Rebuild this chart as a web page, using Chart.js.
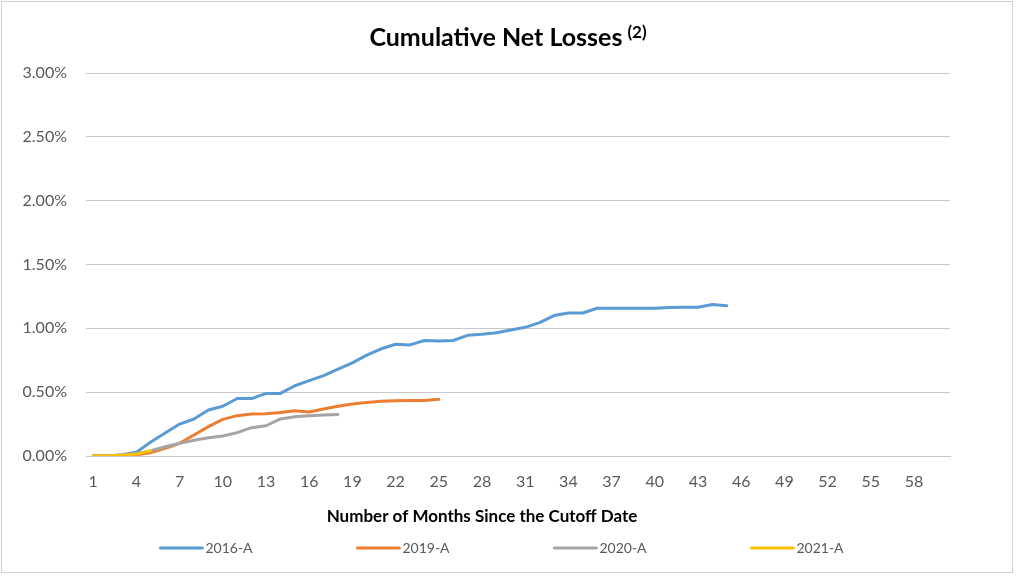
<!DOCTYPE html>
<html>
<head>
<meta charset="utf-8">
<script src="https://cdn.jsdelivr.net/npm/chart.js@4"></script>
<style>
  html, body { margin: 0; padding: 0; background: #ffffff; }
  #wrap { position: absolute; left: 1px; top: 1px; width: 1010px; height: 570px; border: 1px solid #d0d0d0; background: #fff; }
  canvas { display: block; }
</style>
</head>
<body>
<div id="wrap"><canvas id="c" width="1010" height="570"></canvas></div>
<script>
// ---- data ----
const months = Array.from({length: 60}, (_, i) => String(i + 1));
const seriesNames = ['2016-A', '2019-A', '2020-A', '2021-A'];
const seriesColors = ['#5B9BD5', '#ED7D31', '#A5A5A5', '#FFC000'];
const s2016A = [0, 0, 0.01, 0.03, 0.11, 0.18, 0.25, 0.29, 0.36, 0.39,
                0.45, 0.45, 0.49, 0.49, 0.55, 0.59, 0.63, 0.68, 0.73, 0.79,
                0.84, 0.875, 0.87, 0.905, 0.90, 0.905, 0.945, 0.953, 0.966, 0.987,
                1.008, 1.045, 1.10, 1.12, 1.12, 1.157, 1.157, 1.157, 1.157, 1.157,
                1.163, 1.165, 1.165, 1.187, 1.177];
const s2019A = [0, 0, 0.005, 0.01, 0.026, 0.06, 0.10, 0.165, 0.23, 0.287,
                0.316, 0.329, 0.331, 0.34, 0.355, 0.345, 0.368, 0.389, 0.407, 0.42,
                0.428, 0.433, 0.435, 0.435, 0.444];
const s2020A = [0, 0, 0.005, 0.015, 0.042, 0.073, 0.099, 0.123, 0.143, 0.157,
                0.183, 0.222, 0.237, 0.29, 0.308, 0.316, 0.321, 0.326];
const s2021A = [0, 0, 0.005, 0.015, 0.04];
const yTicks = [0, 0.5, 1.0, 1.5, 2.0, 2.5, 3.0];
const chartTitle = 'Cumulative Net Losses';
const titleNote = '(2)';
const xTitle = 'Number of Months Since the Cutoff Date';

const allSeries = [s2016A, s2019A, s2020A, s2021A];
const FONT = 'Lato, "Open Sans", sans-serif';

const datasets = allSeries.map((d, i) => ({
  label: seriesNames[i],
  data: d,
  borderColor: seriesColors[i],
  backgroundColor: seriesColors[i],
  borderWidth: 3,
  pointRadius: 0,
  pointHoverRadius: 0,
  tension: 0,
  fill: false,
  borderCapStyle: 'round',
  borderJoinStyle: 'round',
  order: allSeries.length - i
}));

// title with superscript note, x-axis title, and spread-out legend (Excel style)
const decorations = {
  id: 'decorations',
  afterDraw(chart) {
    const ctx = chart.ctx;
    const cx = chart.width / 2;
    ctx.save();
    // title
    ctx.textBaseline = 'alphabetic';
    ctx.textAlign = 'left';
    ctx.fillStyle = '#000000';
    ctx.font = 'bold 25px ' + FONT;
    const mainW = ctx.measureText(chartTitle).width;
    ctx.font = 'bold 17px ' + FONT;
    const noteW = ctx.measureText(titleNote).width;
    const gap = 5;
    const tx = cx + 1 - (mainW + gap + noteW) / 2;
    ctx.font = 'bold 25px ' + FONT;
    ctx.fillText(chartTitle, tx, 44);
    ctx.font = 'bold 17px ' + FONT;
    ctx.fillText(titleNote, tx + mainW + gap, 36);

    // x-axis title
    ctx.font = 'bold 17px ' + FONT;
    ctx.textAlign = 'center';
    ctx.textBaseline = 'middle';
    ctx.fillText(xTitle, cx - 25, 515);

    // legend
    const ds = chart.data.datasets;
    const spacing = 197;
    const lineLen = 42;
    const lgap = 3;
    const y = 546;
    ctx.font = '14px ' + FONT;
    ctx.textAlign = 'left';
    const itemW = lineLen + lgap + ctx.measureText(ds[0].label).width;
    const lc = cx - 5;
    const start = lc - spacing * (ds.length - 1) / 2 - itemW / 2;
    ds.forEach((d, i) => {
      const x = start + i * spacing;
      ctx.strokeStyle = d.borderColor;
      ctx.lineWidth = 3;
      ctx.lineCap = 'round';
      ctx.beginPath();
      ctx.moveTo(x, y);
      ctx.lineTo(x + lineLen, y);
      ctx.stroke();
      ctx.fillStyle = '#595959';
      ctx.fillText(d.label, x + lineLen + lgap, y);
    });
    ctx.restore();
  }
};

new Chart(document.getElementById('c'), {
  type: 'line',
  data: { labels: months, datasets },
  plugins: [decorations],
  options: {
    responsive: false,
    animation: false,
    layout: { padding: { left: 0, right: 62, top: 71, bottom: 36 } },
    plugins: {
      legend: { display: false },
      tooltip: { enabled: false },
      title: { display: false }
    },
    scales: {
      x: {
        type: 'category',
        offset: true,
        grid: { display: false, offset: true },
        border: { display: true, color: '#c8c8c8', width: 1 },
        ticks: {
          autoSkip: false,
          maxRotation: 0,
          minRotation: 0,
          color: '#595959',
          padding: 8,
          font: { family: FONT, size: 16 },
          callback: function (v, i) { return i % 3 === 0 ? this.getLabelForValue(v) : ''; }
        },
        title: { display: false, text: xTitle },
        afterFit(scale) { scale.height = 80; }
      },
      y: {
        min: 0,
        max: 3,
        afterBuildTicks(scale) { scale.ticks = yTicks.map(v => ({ value: v })); },
        grid: { color: '#c8c8c8', lineWidth: 1, drawTicks: false },
        border: { display: false },
        ticks: {
          color: '#595959',
          padding: 19,
          font: { family: FONT, size: 16 },
          callback: v => v.toFixed(2) + '%'
        },
        afterFit(scale) { scale.width = 84; }
      }
    }
  }
});
</script>
</body>
</html>
